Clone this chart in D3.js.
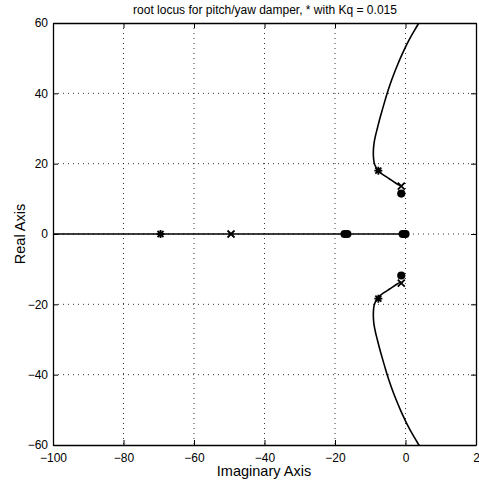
<!DOCTYPE html>
<html>
<head>
<meta charset="utf-8">
<script src="https://cdn.jsdelivr.net/npm/d3@7"></script>
<style>
  body { margin: 0; background: #fff; }
  text { font-family: "Liberation Sans", Arial, sans-serif; fill: #000; }
</style>
</head>
<body>
<div id="chart"></div>
<script>
// tick values and labels (the last x label reads "2" in the original)
const xTicks = [-100, -80, -60, -40, -20, 0, 20];
const xTickLabels = ["\u2212100", "\u221280", "\u221260", "\u221240", "\u221220", "0", "2"];
const yTicks = [-60, -40, -20, 0, 20, 40, 60];

// upper complex branch [re, im], from the pole outward
const branchUpper = [
    [-1.2, 13.6], [-2.5, 14.3], [-4.0, 15.3], [-5.5, 16.3], [-6.8, 17.2],
    [-7.7, 18.0], [-8.4, 19.0], [-8.9, 20.3], [-9.1, 22], [-9.1, 24],
    [-8.9, 26], [-8.5, 28], [-8.0, 30], [-7.5, 32], [-6.95, 34],
    [-6.38, 36], [-5.8, 38], [-5.2, 40], [-4.55, 42], [-3.85, 44],
    [-3.1, 46], [-2.3, 48], [-1.45, 50], [-0.55, 52], [0.4, 54],
    [1.45, 56], [2.6, 58], [3.8, 60], [4.4, 61]
];
// lower branch is the conjugate
const branchLower = branchUpper.map(d => [d[0], -d[1]]);
// real-axis branch
const realBranch = [[-100, 0], [0.8, 0]];

// open-loop poles (x), zeros (o) and closed-loop roots at Kq = 0.015 (*)
const poles = [[-49.5, 0], [-1.2, 13.6], [-1.2, -14.0]];
const zeros = [[-17.3, 0], [-16.5, 0], [-0.8, 0], [0, 0], [-1.2, 11.5], [-1.2, -11.8]];
const gainRoots = [[-69.5, 0], [-7.7, 18.0], [-7.7, -18.4], [-0.3, 0]];

const width = 479, height = 483;
const margin = {top: 23, right: 3, bottom: 38, left: 53};
const w = width - margin.left - margin.right,
      h = height - margin.top - margin.bottom;

const svg = d3.select("#chart").append("svg")
    .attr("width", width)
    .attr("height", height);

const g = svg.append("g")
    .attr("transform", "translate(" + margin.left + "," + margin.top + ")");

const x = d3.scaleLinear().domain([-100, 20]).range([0, w]);
const y = d3.scaleLinear().domain([-60, 60]).range([h, 0]);

// clip the locus to the axes box
g.append("clipPath").attr("id", "clip")
    .append("rect").attr("width", w).attr("height", h);

// dotted grid
g.selectAll(".gx").data(xTicks.slice(1, -1)).enter().append("line")
    .attr("x1", d => x(d)).attr("x2", d => x(d))
    .attr("y1", 0).attr("y2", h)
    .attr("stroke", "#000").attr("stroke-width", 0.8)
    .attr("stroke-dasharray", "1,4");
g.selectAll(".gy").data(yTicks.slice(1, -1)).enter().append("line")
    .attr("x1", 0).attr("x2", w)
    .attr("y1", d => y(d)).attr("y2", d => y(d))
    .attr("stroke", "#000").attr("stroke-width", 0.8)
    .attr("stroke-dasharray", "1,4");

// axes
const xAxis = g.append("g")
    .attr("transform", "translate(0," + h + ")")
    .call(d3.axisBottom(x).tickValues(xTicks).tickSizeInner(-5).tickSizeOuter(0)
        .tickFormat((d, i) => xTickLabels[i]));
const yAxis = g.append("g")
    .call(d3.axisLeft(y).tickValues(yTicks).tickSizeInner(-5).tickSizeOuter(0)
        .tickFormat(d => d < 0 ? "\u2212" + (-d) : d));
// matching ticks on top and right
g.append("g").call(d3.axisTop(x).tickValues(xTicks).tickSizeInner(-5).tickSizeOuter(0).tickFormat(""));
g.append("g").attr("transform", "translate(" + w + ",0)")
    .call(d3.axisRight(y).tickValues(yTicks).tickSizeInner(-5).tickSizeOuter(0).tickFormat(""));

svg.selectAll(".domain").attr("stroke", "#000").attr("stroke-width", 1.3);
svg.selectAll(".tick line").attr("stroke", "#000");
xAxis.selectAll(".tick text").attr("font-size", 12).attr("y", 8).attr("dy", "0.71em");
yAxis.selectAll(".tick text").attr("font-size", 12).attr("x", -5);

// locus lines
const line = d3.line().x(d => x(d[0])).y(d => y(d[1])).curve(d3.curveCatmullRom);
const lociG = g.append("g").attr("clip-path", "url(#clip)");
[branchUpper, branchLower, realBranch].forEach(b => {
    lociG.append("path").datum(b)
        .attr("d", line)
        .attr("fill", "none")
        .attr("stroke", "#000")
        .attr("stroke-width", 1.6);
});

// zeros: heavy round markers
g.selectAll(".zero").data(zeros).enter().append("circle")
    .attr("cx", d => x(d[0])).attr("cy", d => y(d[1]))
    .attr("r", 4.1).attr("fill", "#000");

// poles: x marks
const xm = 3.5;
g.selectAll(".pole").data(poles).enter().append("path")
    .attr("transform", d => "translate(" + x(d[0]) + "," + y(d[1]) + ")")
    .attr("d", "M" + -xm + "," + -xm + "L" + xm + "," + xm + "M" + -xm + "," + xm + "L" + xm + "," + -xm)
    .attr("stroke", "#000").attr("stroke-width", 1.8);

// roots at Kq = 0.015: asterisks
const am = 4;
g.selectAll(".root").data(gainRoots).enter().append("path")
    .attr("transform", d => "translate(" + x(d[0]) + "," + y(d[1]) + ")")
    .attr("d", "M" + -am + ",0L" + am + ",0M0," + -am + "L0," + am +
        "M" + -am * 0.75 + "," + -am * 0.75 + "L" + am * 0.75 + "," + am * 0.75 +
        "M" + -am * 0.75 + "," + am * 0.75 + "L" + am * 0.75 + "," + -am * 0.75)
    .attr("stroke", "#000").attr("stroke-width", 1.8);

// title and labels
svg.append("text")
    .attr("x", 265).attr("y", 14)
    .attr("text-anchor", "middle").attr("font-size", 12)
    .text("root locus for pitch/yaw damper, * with Kq = 0.015");
svg.append("text")
    .attr("x", 264).attr("y", 476)
    .attr("text-anchor", "middle").attr("font-size", 14.5)
    .text("Imaginary Axis");
svg.append("text")
    .attr("transform", "translate(25," + (margin.top + h / 2) + ") rotate(-90)")
    .attr("text-anchor", "middle").attr("font-size", 14.5)
    .text("Real Axis");
</script>
</body>
</html>
